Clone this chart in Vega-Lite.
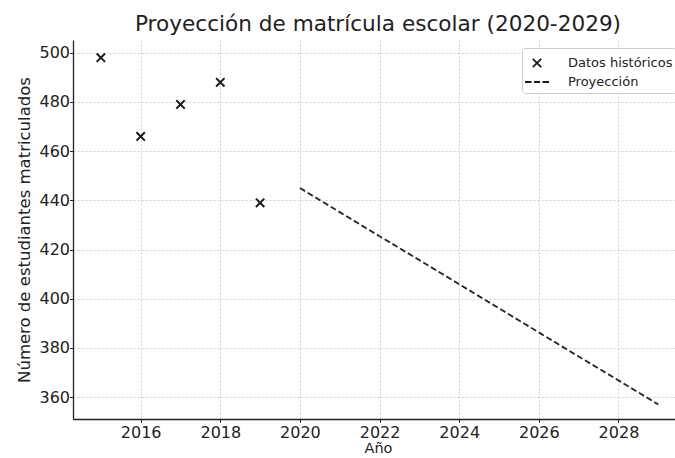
{
  "$schema": "https://vega.github.io/schema/vega-lite/v6.json",
  "width": 602,
  "height": 379,
  "autosize": {"type": "none"},
  "padding": {"left": 73, "top": 40, "right": 0, "bottom": 39},
  "background": "white",
  "title": {
    "text": "Proyección de matrícula escolar (2020-2029)",
    "fontSize": 21.6,
    "fontWeight": "normal",
    "font": "DejaVu Sans",
    "color": "#222",
    "anchor": "middle",
    "offset": 4,
    "dx": 4
  },
  "datasets": {
    "hist": [
      {"year": 2015, "value": 498, "series": "Datos históricos"},
      {"year": 2016, "value": 466, "series": "Datos históricos"},
      {"year": 2017, "value": 479, "series": "Datos históricos"},
      {"year": 2018, "value": 488, "series": "Datos históricos"},
      {"year": 2019, "value": 439, "series": "Datos históricos"}
    ],
    "proj": [
      {"year": 2020, "value": 445.0, "series": "Proyección"},
      {"year": 2021, "value": 435.2, "series": "Proyección"},
      {"year": 2022, "value": 425.4, "series": "Proyección"},
      {"year": 2023, "value": 415.7, "series": "Proyección"},
      {"year": 2024, "value": 405.9, "series": "Proyección"},
      {"year": 2025, "value": 396.1, "series": "Proyección"},
      {"year": 2026, "value": 386.3, "series": "Proyección"},
      {"year": 2027, "value": 376.5, "series": "Proyección"},
      {"year": 2028, "value": 366.8, "series": "Proyección"},
      {"year": 2029, "value": 357.0, "series": "Proyección"}
    ]
  },
  "encoding": {
    "x": {
      "field": "year",
      "type": "quantitative",
      "title": "Año",
      "scale": {"domain": [2014.3, 2029.42], "nice": false, "zero": false},
      "axis": {"values": [2016, 2018, 2020, 2022, 2024, 2026, 2028], "format": "d", "titleX": 305, "titlePadding": 1.5, "titleFontSize": 14.5, "labelPadding": 1.5}
    },
    "y": {
      "field": "value",
      "type": "quantitative",
      "title": "Número de estudiantes matriculados",
      "scale": {"domain": [351.1, 505.2], "nice": false, "zero": false},
      "axis": {"values": [360, 380, 400, 420, 440, 460, 480, 500], "titlePadding": 6, "labelPadding": 0}
    }
  },
  "layer": [
    {
      "data": {"name": "proj"},
      "mark": {"type": "line", "color": "#2a2a2a", "strokeWidth": 1.9, "strokeDash": [6, 3]}
    },
    {
      "data": {"name": "hist"},
      "mark": {"type": "point", "filled": false, "stroke": "#1a1a1a", "strokeWidth": 2, "size": 400, "opacity": 1},
      "encoding": {
        "shape": {
          "field": "series",
          "type": "nominal",
          "scale": {
            "domain": ["Datos históricos", "Proyección"],
            "range": ["M-0.42,-0.42L0.42,0.42M0.42,-0.42L-0.42,0.42", "M-1.2,0L-0.55,0M-0.3,0L0.3,0M0.55,0L1.2,0"]
          },
          "legend": {
            "title": null,
            "orient": "none",
            "legendX": 449,
            "legendY": 8,
            "padding": 4,
            "symbolSize": 400,
            "symbolStrokeColor": "#1a1a1a",
            "symbolFillColor": "transparent",
            "symbolStrokeWidth": 1.8,
            "labelFontSize": 13,
            "labelOffset": 20,
            "labelColor": "#222",
            "labelFont": "DejaVu Sans",
            "rowPadding": 0,
            "fillColor": "white",
            "strokeColor": "#cccccc",
            "cornerRadius": 3
          }
        }
      }
    }
  ],
  "config": {
    "font": "DejaVu Sans",
    "view": {"stroke": null},
    "axis": {
      "labelFontSize": 16,
      "labelColor": "#222",
      "titleFontSize": 16.5,
      "titleFontWeight": "normal",
      "titleColor": "#222",
      "domainColor": "#222",
      "domainWidth": 1.3,
      "tickColor": "#222",
      "tickSize": 3.5,
      "grid": true,
      "gridColor": "#c4c4c4",
      "gridDash": [2, 2],
      "gridWidth": 0.8
    }
  }
}
